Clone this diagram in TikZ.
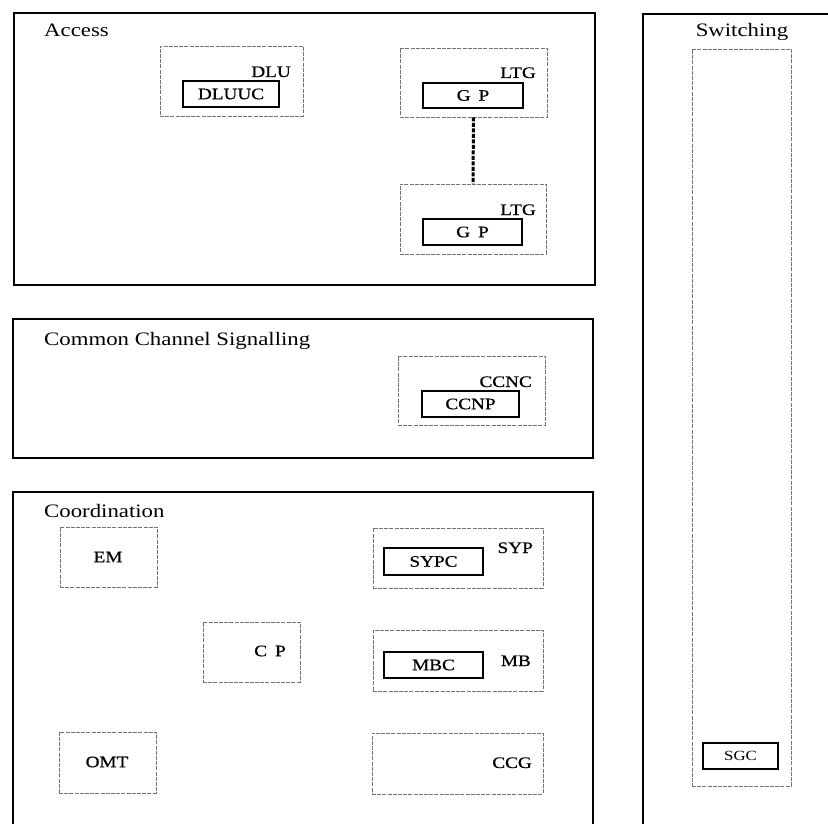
\documentclass[tikz,border=0pt]{standalone}
\usepackage{fontspec}
\setmainfont{Liberation Serif}[FakeStretch=1.2]
\newfontfamily\lblfont{Liberation Serif}[FakeStretch=1.2,FakeBold=0.6]
\begin{document}
\begin{tikzpicture}[x=1pt,y=-1pt,
  outer/.style={draw=black,line width=1.5pt,fill=none},
  dbox/.style={draw=black!55,line width=0.7pt,dash pattern=on 4pt off 1.2pt,inner sep=0pt},
  sbox/.style={draw=black,line width=1.5pt,inner sep=0pt,font=\lblfont\fontsize{16}{18}\selectfont},
  head/.style={inner sep=0pt,anchor=base west,font=\fontsize{19}{22}\selectfont},
  lbl/.style={inner sep=0pt,anchor=base east,font=\lblfont\fontsize{16}{18}\selectfont},
  clbl/.style={inner sep=0pt,font=\lblfont\fontsize{16}{18}\selectfont},
  link/.style={line width=3pt,dash pattern=on 4pt off 1.5pt}]
\useasboundingbox (0,0) rectangle (828,824);
\fill[white] (0,0) rectangle (828,824);
% outer areas
\node[outer,minimum width=581,minimum height=272,inner sep=0pt] (access) at (304.5,149) {};
\node[outer,minimum width=580,minimum height=139,inner sep=0pt] (ccs) at (303,388.5) {};
\node[outer,minimum width=580,minimum height=340,inner sep=0pt] (coord) at (303,662) {};
\node[outer,minimum width=200,minimum height=820,inner sep=0pt] (switch) at (743,424) {};
% headings
\node[head] (hacc) at (44,37) {Access};
\node[head] (hccs) at (44,345) {Common Channel Signalling};
\node[head] (hcoord) at (44,517) {Coordination};
\node[inner sep=0pt,anchor=base,font=\fontsize{19}{22}\selectfont] (hsw) at (742,37) {Switching};
% Access
\node[dbox,minimum width=143,minimum height=70] (dlu) at (231.5,81) {};
\node[lbl] (dlul) at (291,77) {DLU};
\node[sbox,minimum width=96,minimum height=26] (dluuc) at (231,94) {DLUUC};
\node[dbox,minimum width=147,minimum height=69] (ltg1) at (473.5,82.5) {};
\node[lbl] (ltg1l) at (536,78) {LTG};
\node[sbox,minimum width=100,minimum height=25] (gp1) at (473,95.5) {G\,\,\,P};
\node[dbox,minimum width=146,minimum height=70] (ltg2) at (473,219) {};
\node[lbl] (ltg2l) at (536,215) {LTG};
\node[sbox,minimum width=99,minimum height=26] (gp2) at (472.5,232) {G\,\,\,P};
\draw[link] (ltg1.south) -- (ltg2.north);
% CCS
\node[dbox,minimum width=147,minimum height=69] (ccnc) at (471.5,390.5) {};
\node[lbl] (ccncl) at (532,387) {CCNC};
\node[sbox,minimum width=97,minimum height=26] (ccnp) at (470.5,404) {CCNP};
% Coordination
\node[dbox,minimum width=97,minimum height=60] (em) at (108.5,557) {};
\node[clbl] (eml) at (108,557) {EM};
\node[dbox,minimum width=97,minimum height=60] (cp) at (251.5,652) {};
\node[clbl] (cpl) at (270,651) {C\,\,\,P};
\node[dbox,minimum width=97,minimum height=61] (omt) at (107.5,762.5) {};
\node[clbl] (omtl) at (107,762) {OMT};
\node[dbox,minimum width=170,minimum height=60] (syp) at (458,558) {};
\node[lbl] (sypl) at (533,553) {SYP};
\node[sbox,minimum width=99,minimum height=27] (sypc) at (433.5,561.5) {SYPC};
\node[dbox,minimum width=170,minimum height=61] (mb) at (458,660.5) {};
\node[lbl] (mbl) at (531,666) {MB};
\node[sbox,minimum width=99,minimum height=26] (mbc) at (433.5,665) {MBC};
\node[dbox,minimum width=171,minimum height=61] (ccg) at (457.5,763.5) {};
\node[lbl] (ccgl) at (532,768) {CCG};
% Switching
\node[dbox,minimum width=99,minimum height=737] (sn) at (741.5,417.5) {};
\node[draw=black,line width=1.5pt,inner sep=0pt,minimum width=75,minimum height=26,font=\fontsize{14}{16}\selectfont] (sgc) at (740.5,756) {SGC};
\end{tikzpicture}
\end{document}
